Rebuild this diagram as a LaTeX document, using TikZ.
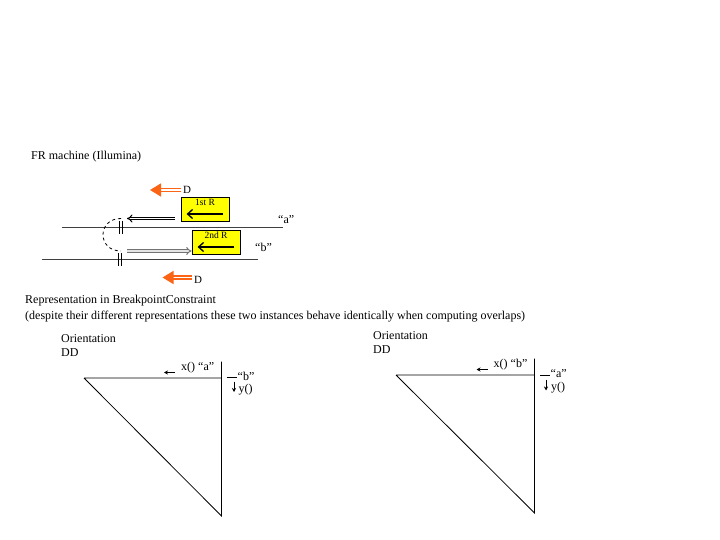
\documentclass[tikz,border=0pt]{standalone}
\usepackage{fontspec}
\setmainfont{Liberation Serif}
\usetikzlibrary{arrows.meta}
\definecolor{droporange}{RGB}{250,100,20}
\definecolor{readyellow}{RGB}{255,255,0}

\begin{document}
\begin{tikzpicture}[x=1pt,y=-1pt,
    lbl/.style={inner sep=0pt,anchor=west,font=\fontsize{12}{14}\selectfont},
    smalllbl/.style={inner sep=0pt,font=\fontsize{9.5}{10}\selectfont},
    readbox/.style={draw=black,fill=readyellow,minimum width=48pt,minimum height=24pt,inner sep=0pt,line width=0.8pt},
    droparrow/.style={draw=droporange,double=white,double distance=1.4pt,line width=1.4pt,-{Triangle[length=11pt,width=13pt,fill=droporange]}},
    strand/.style={draw=black!75,line width=0.8pt},
    strandarrow/.style={double=white,double distance=1.6pt,line width=1pt,-{Implies}},
    readarrow/.style={line width=1.3pt,-{Straight Barb[length=5pt,width=9pt]}},
    tri/.style={line width=0.8pt},
    smallarrow/.style={line width=0.7pt,-{Stealth[length=4pt,width=4pt]}},
  ]
  \useasboundingbox (0,0) rectangle (720,540);

  % FR machine
  \node[lbl] (frtitle) at (31,157) {FR machine (Illumina)};

  % top orange arrow
  \coordinate (dtoptail) at (181,190);
  \coordinate (dtoptip) at (150,190);
  \draw[droparrow] (dtoptail) -- (dtoptip);
  \node[lbl,font=\fontsize{11}{13}\selectfont] (dtop) at (183,190) {D};

  % reads
  \node[readbox] (read1) at (205,209) {};
  \node[smalllbl,anchor=north] (read1lbl) at (read1.north) [yshift=-2pt] {1st R};
  \draw[readarrow] ([xshift=-6pt,yshift=-5pt]read1.east) -- ([xshift=6pt,yshift=-5pt]read1.west);

  \node[readbox] (read2) at (216,242) {};
  \node[smalllbl,anchor=north] (read2lbl) at (read2.north) [yshift=-2pt] {2nd R};
  \draw[readarrow] ([xshift=-6pt,yshift=-5pt]read2.east) -- ([xshift=6pt,yshift=-5pt]read2.west);

  % strands
  \coordinate (astart) at (62,227);
  \coordinate (aend) at (283,227);
  \draw[strand] (astart) -- (aend);
  \node[lbl] (alabel) at (278,220) {``a''};

  \coordinate (bstart) at (42,259.5);
  \coordinate (bend) at (258,259.5);
  \draw[strand] (bstart) -- (bend);
  \node[lbl] (blabel) at (255,247) {``b''};

  % breaks
  \draw[line width=0.8pt] (119.5,221) -- (119.5,234) (122.5,221) -- (122.5,234);
  \draw[line width=0.8pt] (118,253) -- (118,266) (121,253) -- (121,266);
  \draw[dashed,line width=0.8pt] (121,218.5) .. controls (97,218.5) and (97,251) .. (121,251);

  % strand arrows
  \coordinate (s1tail) at (175,218.5);
  \coordinate (s1tip) at (127,218.5);
  \draw[strandarrow] (s1tail) -- (s1tip);
  \coordinate (s2tail) at (127,251);
  \draw[strandarrow,draw=black!55,double=black!10] (s2tail) -- (read2.west |- s2tail);

  % bottom orange arrow
  \coordinate (dbottail) at (192,277.5);
  \coordinate (dbottip) at (162.5,277.5);
  \draw[droparrow] (dbottail) -- (dbottip);
  \node[lbl,font=\fontsize{11}{13}\selectfont] (dbot) at (194,279.5) {D};

  % representation
  \node[lbl,anchor=base west] (reptitle) at (25,303.5) {Representation in BreakpointConstraint};
  \node[lbl,anchor=base west] (repnote) at (25,319.5) {(despite their different representations these two instances behave identically when computing overlaps)};

  % left triangle
  \node[lbl] (orient1) at (61,339) {Orientation};
  \node[lbl] (dd1) at (61,353) {DD};
  \coordinate (l1) at (84,378);
  \coordinate (l2) at (221.5,378);
  \coordinate (l3) at (221.5,516);
  \coordinate (l4) at (221.5,361.5);
  \draw[tri] (l1) -- (l2) (l4) -- (l3) -- (l1);
  \node[lbl] (x1) at (181,368) {x() ``a''};
  \draw[smallarrow] ([xshift=-6pt]x1.west |- 0,372.5) -- ++(-11,0);
  \draw[tri] (227,377) -- (237,377);
  \node[lbl] (y1lbl) at (237.5,376.5) {``b''};
  \draw[smallarrow] (234,381.5) -- (234,392);
  \node[lbl] (y1) at (238.5,390) {y()};

  % right triangle
  \node[lbl] (orient2) at (373,336) {Orientation};
  \node[lbl] (dd2) at (373,350) {DD};
  \coordinate (r1) at (396,375);
  \coordinate (r2) at (534.5,375);
  \coordinate (r3) at (534.5,513);
  \coordinate (r4) at (534.5,358.5);
  \draw[tri] (r1) -- (r2) (r4) -- (r3) -- (r1);
  \node[lbl] (x2) at (493.5,365) {x() ``b''};
  \draw[smallarrow] ([xshift=-6pt]x2.west |- 0,369.5) -- ++(-11,0);
  \draw[tri] (540,375.5) -- (550,375.5);
  \node[lbl] (y2lbl) at (550.5,374) {``a''};
  \draw[smallarrow] (546,380) -- (546,390.5);
  \node[lbl] (y2) at (551,387.5) {y()};
\end{tikzpicture}
\end{document}
